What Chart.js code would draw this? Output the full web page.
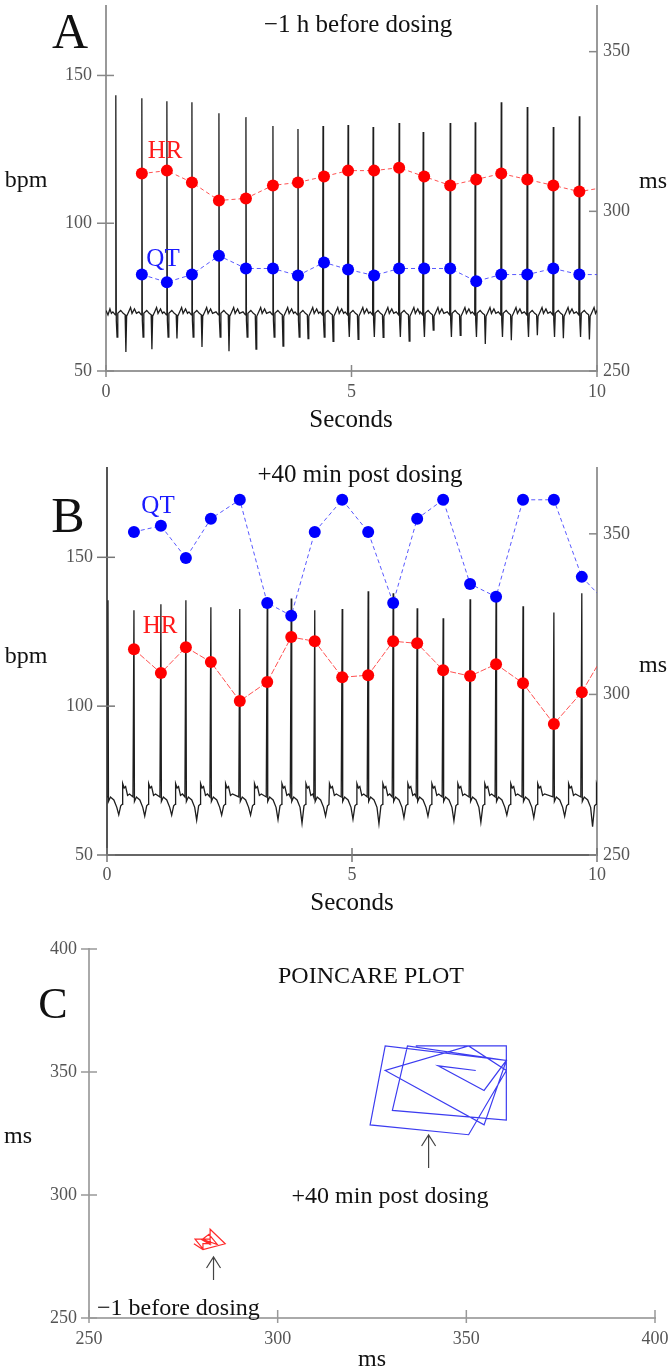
<!DOCTYPE html>
<html>
<head>
<meta charset="utf-8">
<title>QT and HR before and after dosing</title>
<script src="https://cdn.jsdelivr.net/npm/chart.js@4.4.1/dist/chart.umd.min.js"></script>
<style>
  body { margin: 0; background: #fff; }
  #wrap { position: relative; width: 670px; height: 1368px; }
  canvas { position: absolute; left: 0; }
</style>
</head>
<body>
<div id="wrap">
  <canvas id="chartA" width="670" height="440" style="top:0"></canvas>
  <canvas id="chartB" width="670" height="480" style="top:440px"></canvas>
  <canvas id="chartC" width="670" height="448" style="top:920px"></canvas>
</div>
<script>
// 1: data

// tick labels
const secondsTicks = [0, 5, 10];
const bpmTicks = [50, 100, 150];
const msTicks = [250, 300, 350];
const poincareTicks = [250, 300, 350, 400];

// panel A: -1 h before dosing, one HR (bpm) and QT (ms) value per beat
const beatTimesA = [0.73, 1.24, 1.75, 2.30, 2.85, 3.40, 3.91, 4.44, 4.93, 5.46, 5.97, 6.48, 7.01, 7.54, 8.05, 8.58, 9.11, 9.64];
const hrA = [116.8, 117.8, 113.8, 107.7, 108.4, 112.8, 113.8, 115.8, 117.8, 117.8, 118.8, 115.8, 112.8, 114.8, 116.8, 114.8, 112.8, 110.7];
const qtA = [280.2, 277.8, 280.2, 286.1, 282.1, 282.1, 279.9, 284.0, 281.8, 279.9, 282.1, 282.1, 282.1, 278.1, 280.2, 280.2, 282.1, 280.2];
// value where the dashed lines run into the 10 s edge
const hrEdgeA = 111.7;
const qtEdgeA = 280.2;
// ECG: R spike tops and the deep dip after each beat (bpm axis units)
const ecgBeatsA = [0.20, 0.73, 1.24, 1.75, 2.30, 2.85, 3.40, 3.91, 4.42, 4.93, 5.44, 5.97, 6.46, 7.01, 7.52, 8.05, 8.58, 9.11, 9.64];
const rPeakA = [143.3, 142.3, 141.3, 140.9, 137.2, 135.9, 132.9, 131.9, 132.9, 133.2, 132.6, 133.9, 130.9, 133.9, 134.2, 140.9, 139.3, 132.6, 136.2];
const sDipA = [56.4, 57.4, 61.0, 58.1, 56.7, 57.4, 58.4, 61.0, 60.0, 60.7, 61.4, 60.1, 63.8, 62.1, 59.1, 60.4, 62.1, 61.1, 60.7];

// panel B: +40 min post dosing
const beatTimesB = [0.55, 1.10, 1.61, 2.12, 2.71, 3.27, 3.76, 4.24, 4.80, 5.33, 5.84, 6.33, 6.86, 7.41, 7.94, 8.49, 9.12, 9.69];
const hrB = [119.1, 111.1, 119.8, 114.8, 101.7, 108.1, 123.2, 121.8, 109.7, 110.4, 121.8, 121.1, 112.1, 110.1, 114.1, 107.7, 94.0, 104.7];
const qtB = [350.6, 352.5, 342.5, 354.7, 360.6, 328.5, 324.5, 350.6, 360.6, 350.6, 328.5, 354.7, 360.6, 334.4, 330.4, 360.6, 360.6, 336.6];
const hrEdgeB = 113.4;
const qtEdgeB = 331.6;
const ecgBeatsB = [0.02, 0.55, 1.10, 1.61, 2.12, 2.71, 3.27, 3.76, 4.24, 4.80, 5.33, 5.84, 6.33, 6.86, 7.41, 7.94, 8.49, 9.12, 9.69];
const rPeakB = [135.6, 132.2, 134.2, 135.6, 133.2, 132.6, 133.9, 136.2, 132.2, 132.6, 138.6, 137.9, 132.9, 129.5, 135.9, 136.9, 133.6, 131.5, 137.9];
const sDipB = [63.5, 63.1, 63.4, 61.7, 63.4, 63.4, 61.9, 60.7, 63.1, 62.0, 60.5, 62.5, 63.0, 61.5, 61.0, 63.4, 62.5, 63.0, 59.5];


// 2: helpers
const serif = '"Liberation Serif", "Times New Roman", serif';

// one heartbeat of the ECG: [time offset, level] - 'R' and 'S' come from the arrays above
const beatShapeA = [[-0.06, 70], [-0.01, 69], [0, 'R'], [0.01, 67], [0.025, 61.5], [0.04, 69.5], [0.1, 70.5],
  [0.15, 69.5], [0.19, 69], [0.205, 'S'], [0.22, 68.5], [0.26, 70], [0.3, 71.5], [0.33, 69.5], [0.38, 71], [0.42, 69.5]];
const beatShapeB = [[-0.02, 69.5], [0, 'R'], [0.01, 68], [0.05, 69.5], [0.12, 68.5], [0.18, 66], [0.22, 'S'],
  [0.26, 66.5], [0.29, 67], [0.3, 74], [0.33, 72.5], [0.36, 73], [0.4, 70], [0.44, 70.5]];

function buildEcg(times, peaks, dips, shape, lead) {
  let pts = lead.map(p => ({ x: p[0], y: p[1] }));
  times.forEach((t, i) => {
    for (const [dt, v] of shape) {
      let y = v === 'R' ? peaks[i] : (v === 'S' ? dips[i] : v);
      pts.push({ x: +(t + dt).toFixed(3), y: y });
    }
  });
  return pts;
}

// beat values plus the point where the line leaves the plot
function beatSeries(times, values, edge) {
  let pts = times.map((t, i) => ({ x: t, y: values[i] }));
  pts.push({ x: 10, y: edge });
  return pts;
}

// Poincare pairs: next QT against current QT
function poincare(qt) {
  let pts = [];
  for (let i = 0; i < qt.length - 1; i++) {
    pts.push({ x: qt[i + 1], y: qt[i] });
  }
  return pts;
}

function axis(o) {
  return {
    type: 'linear',
    position: o.position,
    min: o.min,
    max: o.max,
    afterBuildTicks: s => { s.ticks = o.ticks.map(v => ({ value: v })); },
    afterFit: s => {
      if (s.isHorizontal()) s.height = o.size; else s.width = o.size;
      // keep the plot area exactly where the layout padding puts it
      s.paddingTop = 0; s.paddingBottom = 0; s.paddingLeft = 0; s.paddingRight = 0;
    },
    grid: { display: true, drawOnChartArea: false, drawTicks: false },
    border: { display: true, color: o.color, width: 2 },
    ticks: { padding: o.pad, color: '#555', font: { family: serif, size: 18 } }
  };
}

function lineSet(data, n, color, lineColor, axisId, dash) {
  return {
    data: data,
    yAxisID: axisId,
    showLine: true,
    borderColor: lineColor,
    borderWidth: 1,
    borderDash: dash,
    backgroundColor: color,
    pointBackgroundColor: color,
    pointBorderWidth: 0,
    pointRadius: ctx => ctx.dataIndex < n ? 6 : 0,
    order: 1
  };
}

function ecgSet(data) {
  return { data: data, yAxisID: 'y', showLine: true, borderColor: '#1e1e1e', borderWidth: 1.3, pointRadius: 0, order: 3 };
}

// texts, crossing tick marks and arrows
const decor = {
  id: 'decor',
  afterDraw(chart, args, opts) {
    const ctx = chart.ctx;
    ctx.save();
    for (const m of (opts.marks || [])) {
      const sc = chart.scales[m.axis];
      ctx.strokeStyle = m.color;
      ctx.lineWidth = 1.5;
      for (const t of sc.ticks) {
        const p = sc.getPixelForValue(t.value);
        ctx.beginPath();
        if (sc.isHorizontal()) {
          ctx.moveTo(p, sc.top - m.inner); ctx.lineTo(p, sc.top + m.outer);
        } else if (sc.position === 'left') {
          ctx.moveTo(sc.right - m.outer, p); ctx.lineTo(sc.right + m.inner, p);
        } else {
          ctx.moveTo(sc.left - m.inner, p); ctx.lineTo(sc.left + m.outer, p);
        }
        ctx.stroke();
      }
    }
    for (const a of (opts.arrows || [])) {
      const px = chart.scales.x.getPixelForValue(a.x);
      const y0 = chart.scales.y.getPixelForValue(a.from);
      const y1 = chart.scales.y.getPixelForValue(a.to);
      ctx.strokeStyle = '#444';
      ctx.lineWidth = 1.2;
      ctx.beginPath();
      ctx.moveTo(px, y0); ctx.lineTo(px, y1);
      ctx.moveTo(px - 7, y1 + 11); ctx.lineTo(px, y1); ctx.lineTo(px + 7, y1 + 11);
      ctx.stroke();
    }
    ctx.textBaseline = 'alphabetic';
    for (const t of (opts.texts || [])) {
      ctx.font = t.size + 'px ' + serif;
      ctx.fillStyle = t.color || '#111';
      ctx.textAlign = t.align || 'center';
      ctx.fillText(t.text, t.x, t.y);
    }
    ctx.restore();
  }
};

const baseOptions = {
  responsive: false,
  devicePixelRatio: 1,
  animation: false,
  events: []
};


// 3: panel A
let ecgA = buildEcg(ecgBeatsA, rPeakA, sDipA, beatShapeA, [[0, 70.5], [0.04, 69], [0.08, 71], [0.11, 69.5]]);

new Chart(document.getElementById('chartA'), {
  type: 'scatter',
  data: {
    datasets: [
      ecgSet(ecgA),
      lineSet(beatSeries(beatTimesA, hrA, hrEdgeA), beatTimesA.length, '#ff0000', 'rgba(255,50,50,0.85)', 'y', [4, 3]),
      lineSet(beatSeries(beatTimesA, qtA, qtEdgeA), beatTimesA.length, '#0000ff', 'rgba(60,60,255,0.85)', 'y1', [4, 3])
    ]
  },
  options: Object.assign({}, baseOptions, {
    layout: { padding: { top: 3, left: 0, right: 0, bottom: 0 } },
    scales: {
      x: axis({ position: 'bottom', min: 0, max: 10, ticks: secondsTicks, size: 69, color: '#999', pad: 10 }),
      y: axis({ position: 'left', min: 50, max: 173.5, ticks: bpmTicks, size: 106, color: '#999', pad: 14 }),
      y1: axis({ position: 'right', min: 250, max: 364.3, ticks: msTicks, size: 73, color: '#999', pad: 6 })
    },
    plugins: {
      legend: { display: false },
      tooltip: { enabled: false },
      decor: {
        marks: [
          { axis: 'x', inner: 6, outer: 6, color: '#888' },
          { axis: 'y', inner: 8, outer: 9, color: '#888' },
          { axis: 'y1', inner: 8, outer: 0, color: '#888' }
        ],
        texts: [
          { text: 'A', x: 70, y: 48, size: 50 },
          { text: '\u22121 h before dosing', x: 358, y: 32, size: 25 },
          { text: 'HR', x: 165, y: 158, size: 25, color: '#ff1a1a' },
          { text: 'QT', x: 163, y: 266, size: 25, color: '#1a1aff' },
          { text: 'bpm', x: 26, y: 187, size: 24 },
          { text: 'ms', x: 653, y: 188, size: 24 },
          { text: 'Seconds', x: 351, y: 427, size: 25 }
        ]
      }
    }
  }),
  plugins: [decor]
});


// 4: panel B
let ecgB = buildEcg(ecgBeatsB, rPeakB, sDipB, beatShapeB, []);

new Chart(document.getElementById('chartB'), {
  type: 'scatter',
  data: {
    datasets: [
      ecgSet(ecgB),
      lineSet(beatSeries(beatTimesB, hrB, hrEdgeB), beatTimesB.length, '#ff0000', 'rgba(255,50,50,0.85)', 'y', [6, 2]),
      lineSet(beatSeries(beatTimesB, qtB, qtEdgeB), beatTimesB.length, '#0000ff', 'rgba(60,60,255,0.85)', 'y1', [4, 3])
    ]
  },
  options: Object.assign({}, baseOptions, {
    layout: { padding: { top: 28, left: 0, right: 0, bottom: 0 } },
    scales: {
      x: axis({ position: 'bottom', min: 0, max: 10, ticks: secondsTicks, size: 65, color: '#666', pad: 9 }),
      y: axis({ position: 'left', min: 50, max: 180, ticks: bpmTicks, size: 107, color: '#555', pad: 14 }),
      y1: axis({ position: 'right', min: 250, max: 370.5, ticks: msTicks, size: 73, color: '#999', pad: 6 })
    },
    plugins: {
      legend: { display: false },
      tooltip: { enabled: false },
      decor: {
        marks: [
          { axis: 'x', inner: 7, outer: 7, color: '#777' },
          { axis: 'y', inner: 8, outer: 10, color: '#777' },
          { axis: 'y1', inner: 8, outer: 0, color: '#888' }
        ],
        texts: [
          { text: 'B', x: 68, y: 92, size: 50 },
          { text: '+40 min post dosing', x: 360, y: 42, size: 25 },
          { text: 'QT', x: 158, y: 73, size: 25, color: '#1a1aff' },
          { text: 'HR', x: 160, y: 193, size: 25, color: '#ff1a1a' },
          { text: 'bpm', x: 26, y: 223, size: 24 },
          { text: 'ms', x: 653, y: 232, size: 24 },
          { text: 'Seconds', x: 352, y: 470, size: 25 }
        ]
      }
    }
  }),
  plugins: [decor]
});


// 5: panel C - Poincare plot of the QT intervals
new Chart(document.getElementById('chartC'), {
  type: 'scatter',
  data: {
    datasets: [
      { data: poincare(qtA), showLine: true, borderColor: '#ff2a2a', borderWidth: 1.2, pointRadius: 0 },
      { data: poincare(qtB), showLine: true, borderColor: '#3c3cf0', borderWidth: 1.2, pointRadius: 0 }
    ]
  },
  options: Object.assign({}, baseOptions, {
    layout: { padding: { top: 29, left: 0, right: 15, bottom: 0 } },
    scales: {
      x: axis({ position: 'bottom', min: 250, max: 400, ticks: poincareTicks, size: 50, color: '#aaa', pad: 10 }),
      y: axis({ position: 'left', min: 250, max: 400, ticks: poincareTicks, size: 89, color: '#aaa', pad: 12 })
    },
    plugins: {
      legend: { display: false },
      tooltip: { enabled: false },
      decor: {
        marks: [
          { axis: 'x', inner: 8, outer: 5, color: '#999' },
          { axis: 'y', inner: 8, outer: 8, color: '#999' }
        ],
        arrows: [
          { x: 340, from: 311, to: 324.4 },
          { x: 283, from: 265.4, to: 274.8 }
        ],
        texts: [
          { text: 'C', x: 53, y: 98, size: 44 },
          { text: 'POINCARE PLOT', x: 371, y: 63, size: 24 },
          { text: '+40 min post dosing', x: 390, y: 283, size: 24 },
          { text: '\u22121 before dosing', x: 97, y: 395, size: 24, align: 'left' },
          { text: 'ms', x: 18, y: 223, size: 24 },
          { text: 'ms', x: 372, y: 446, size: 24 }
        ]
      }
    }
  }),
  plugins: [decor]
});
</script>
</body>
</html>
